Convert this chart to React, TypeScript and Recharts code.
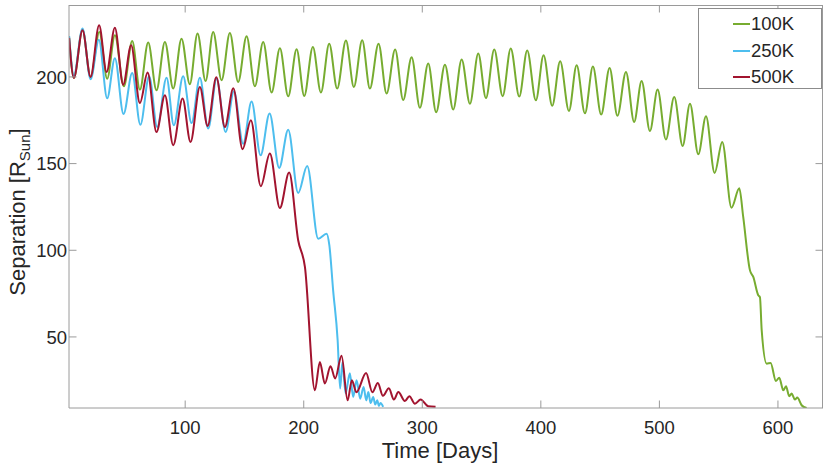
import React from 'react';
import { LineChart, Line, XAxis, YAxis } from 'recharts';

// values (peaks / troughs of each run)
const days100K = [
  2.1, 6.1, 13.4, 20.2, 27.6, 34.2, 40.7, 48.3, 55.3, 61.8,
  68.8, 75.8, 82.9, 89.9, 96.9, 103.9, 110.4, 117.2, 123.6, 130.7,
  137.7, 144.7, 151.8, 158.8, 165.8, 172.9, 179.9, 186.9, 194.0, 200.4,
  207.7, 214.5, 221.5, 228.2, 235.6, 242.3, 249.3, 255.8, 263.1, 269.9,
  277.1, 283.9, 291.0, 298.0, 305.0, 311.7, 319.1, 326.1, 333.2, 340.2,
  347.2, 353.7, 360.7, 367.8, 374.6, 381.8, 388.5, 395.8, 402.3, 409.6,
  416.3, 423.7, 430.2, 437.2, 443.9, 450.9, 458.0, 464.6, 471.8, 478.7,
  485.0, 492.0, 498.5, 505.5, 512.5, 519.6, 525.8, 532.8, 539.3, 546.6,
  553.0, 560.8, 567.4, 570.7, 576.4, 579.2, 583.4, 584.8, 586.3, 590.5,
  593.8, 598.3, 601.1, 604.5, 606.8, 609.5, 611.6, 614.3, 616.3, 620.0, 624.2,
];
const sep100K = [
  222.5, 199.4, 227.2, 199.8, 225.9, 199.0, 224.0, 194.6, 220.7, 192.7,
  219.8, 192.3, 220.2, 193.3, 222.1, 195.8, 225.0, 197.7, 225.9, 198.1,
  225.4, 197.1, 223.4, 194.6, 220.2, 191.0, 216.5, 188.8, 215.9, 189.0,
  217.3, 191.0, 219.2, 193.3, 221.0, 194.2, 221.1, 193.3, 219.2, 190.4,
  215.8, 186.7, 211.3, 182.2, 207.7, 179.6, 207.1, 181.2, 210.1, 184.6,
  213.5, 187.8, 215.8, 188.9, 216.4, 188.7, 215.2, 186.5, 212.5, 183.4,
  209.0, 180.4, 206.7, 179.0, 206.0, 178.3, 205.2, 177.6, 202.9, 174.0,
  197.7, 168.8, 192.7, 163.9, 188.4, 160.2, 184.6, 155.4, 177.3, 144.6,
  162.5, 124.6, 135.8, 119.2, 88.4, 84.6, 74.0, 73.0, 53.8, 34.6,
  35.0, 24.6, 26.5, 19.2, 21.5, 15.8, 17.3, 13.9, 15.0, 10.6, 9.0,
];

const days250K = [
  2.1, 6.1, 13.4, 20.2, 27.2, 34.2, 40.7, 48.0, 55.3, 62.2,
  69.6, 76.4, 84.3, 90.4, 98.3, 105.4, 112.4, 119.4, 126.5, 134.1,
  141.1, 148.9, 156.0, 163.6, 171.2, 179.3, 186.9, 195.3, 202.9, 212.2,
  219.3, 221.6, 224.8, 228.6, 230.7, 232.6, 235.3, 238.9, 241.7, 244.6,
  247.6, 250.5, 252.7, 254.5, 256.4, 258.6, 260.3, 262.0, 263.4, 264.8, 267.0,
];
const sep250K = [
  223.6, 200.9, 227.9, 198.6, 221.5, 187.7, 210.8, 178.6, 202.3, 172.4,
  200.4, 171.1, 199.6, 172.1, 200.4, 173.4, 199.6, 170.2, 199.0, 168.2,
  191.7, 161.5, 185.8, 154.8, 178.9, 147.5, 169.6, 133.0, 148.6, 106.7,
  109.6, 102.9, 76.9, 48.1, 20.2, 35.4, 17.5, 29.0, 15.4, 25.0,
  14.4, 21.1, 13.4, 18.2, 11.9, 15.4, 11.0, 13.4, 10.2, 11.9, 9.6,
];

const days500K = [
  2.1, 6.1, 13.4, 20.2, 27.4, 33.7, 40.7, 47.7, 54.4, 61.8,
  68.3, 75.8, 82.9, 89.9, 97.8, 104.5, 112.4, 118.9, 126.3, 133.5,
  140.6, 148.4, 155.4, 163.8, 171.4, 179.9, 187.7, 195.3, 201.0, 209.4,
  213.6, 217.8, 222.6, 226.5, 231.9, 237.0, 240.6, 244.4, 252.6, 257.9,
  262.5, 266.8, 271.8, 276.0, 279.8, 285.3, 289.1, 293.8, 298.6, 305.0, 311.2,
];
const sep500K = [
  222.5, 199.4, 226.9, 200.0, 229.8, 202.9, 228.4, 195.5, 218.3, 184.9,
  202.5, 168.2, 189.4, 160.6, 187.5, 162.5, 194.2, 171.7, 199.8, 171.1,
  193.4, 158.3, 175.0, 136.9, 155.8, 124.4, 144.8, 105.8, 90.4, 19.2,
  35.5, 23.1, 33.1, 26.0, 39.1, 13.4, 25.0, 18.1, 29.2, 18.1,
  23.4, 16.0, 20.4, 13.9, 18.2, 13.0, 15.8, 11.5, 13.9, 10.0, 9.7,
];

const seriesNames = ['100K', '250K', '500K'];
const xTicks = [100, 200, 300, 400, 500, 600];
const yTicks = [50, 100, 150, 200];

const zip = (days: number[], sep: number[]) => days.map((d, i) => ({ day: d, sep: sep[i] }));

const series = [
  { name: seriesNames[0], color: '#77AC30', data: zip(days100K, sep100K) },
  { name: seriesNames[1], color: '#4DBEEE', data: zip(days250K, sep250K) },
  { name: seriesNames[2], color: '#A2142F', data: zip(days500K, sep500K) },
];

const FONT = '"Liberation Sans", Arial, Helvetica, sans-serif';
const TEXT = '#262626';
const AXIS = '#9a9a9a';

// plot box (fixed by margins + axis sizes below)
const PLOT = { left: 69, top: 5, right: 823, bottom: 408 };
const TICK_LEN = 7.5;

const XTick = (props: any) => {
  const { x, payload } = props;
  return (
    <g>
      <line x1={x} x2={x} y1={PLOT.bottom} y2={PLOT.bottom - TICK_LEN} stroke={AXIS} />
      <line x1={x} x2={x} y1={PLOT.top} y2={PLOT.top + TICK_LEN} stroke={AXIS} />
      <text x={x} y={434} textAnchor="middle" fontSize={18.5} fill={TEXT} fontFamily={FONT}>
        {payload.value}
      </text>
    </g>
  );
};

const YTick = (props: any) => {
  const { y, payload } = props;
  return (
    <g>
      <line x1={PLOT.left} x2={PLOT.left + TICK_LEN} y1={y} y2={y} stroke={AXIS} />
      <line x1={PLOT.right - TICK_LEN} x2={PLOT.right} y1={y} y2={y} stroke={AXIS} />
      <text x={67} y={y} dy="0.36em" textAnchor="end" fontSize={18.5} fill={TEXT} fontFamily={FONT}>
        {payload.value}
      </text>
    </g>
  );
};

const XLabel = () => (
  <text x={440} y={458} textAnchor="middle" fontSize={22} fill={TEXT} fontFamily={FONT}>
    Time [Days]
  </text>
);

const YLabel = () => (
  <text
    x={25}
    y={212}
    transform="rotate(-90, 25, 212)"
    textAnchor="middle"
    fontSize={22}
    fill={TEXT}
    fontFamily={FONT}
  >
    Separation [R
    <tspan fontSize={15} dy={5}>Sun</tspan>
    <tspan dy={-5}>]</tspan>
  </text>
);

const LegendBox = () => (
  <div
    style={{
      position: 'absolute',
      left: 698,
      top: 8,
      width: 122,
      height: 79,
      border: '1px solid #8c8c8c',
      background: '#fff',
      fontFamily: FONT,
      fontSize: 18.5,
      color: TEXT,
    }}
  >
    {series.map((s, i) => (
      <div
        key={s.name}
        style={{ position: 'absolute', left: 34, top: 5 + i * 26.7, height: 20, display: 'flex', alignItems: 'center' }}
      >
        <div style={{ width: 17, height: 2, background: s.color }} />
        <span style={{ marginLeft: 1, lineHeight: '20px' }}>{s.name}</span>
      </div>
    ))}
  </div>
);

export default function App() {
  return (
    <div style={{ position: 'absolute', left: 0, top: 0, width: 830, height: 468, background: '#fff' }}>
      <LineChart width={830} height={468} margin={{ top: 5, right: 7, bottom: 0, left: 0 }}>
        <XAxis
          dataKey="day"
          type="number"
          domain={[2, 638]}
          ticks={xTicks}
          allowDataOverflow
          height={60}
          stroke={AXIS}
          tickLine={false}
          tick={<XTick />}
          label={<XLabel />}
        />
        <YAxis
          type="number"
          domain={[9, 241.5]}
          ticks={yTicks}
          allowDataOverflow
          width={69}
          stroke={AXIS}
          tickLine={false}
          tick={<YTick />}
          label={<YLabel />}
        />
        {series.map((s) => (
          <Line
            key={s.name}
            data={s.data}
            dataKey="sep"
            name={s.name}
            type="monotone"
            stroke={s.color}
            strokeWidth={2}
            dot={false}
            activeDot={false}
            isAnimationActive={false}
          />
        ))}
      </LineChart>
      {/* box edges on top and right, as in the original axes */}
      <div
        style={{
          position: 'absolute',
          left: PLOT.left,
          top: PLOT.top,
          width: PLOT.right - PLOT.left,
          height: PLOT.bottom - PLOT.top,
          borderTop: `1px solid ${AXIS}`,
          borderRight: `1px solid ${AXIS}`,
          boxSizing: 'border-box',
          pointerEvents: 'none',
        }}
      />
      <LegendBox />
    </div>
  );
}
